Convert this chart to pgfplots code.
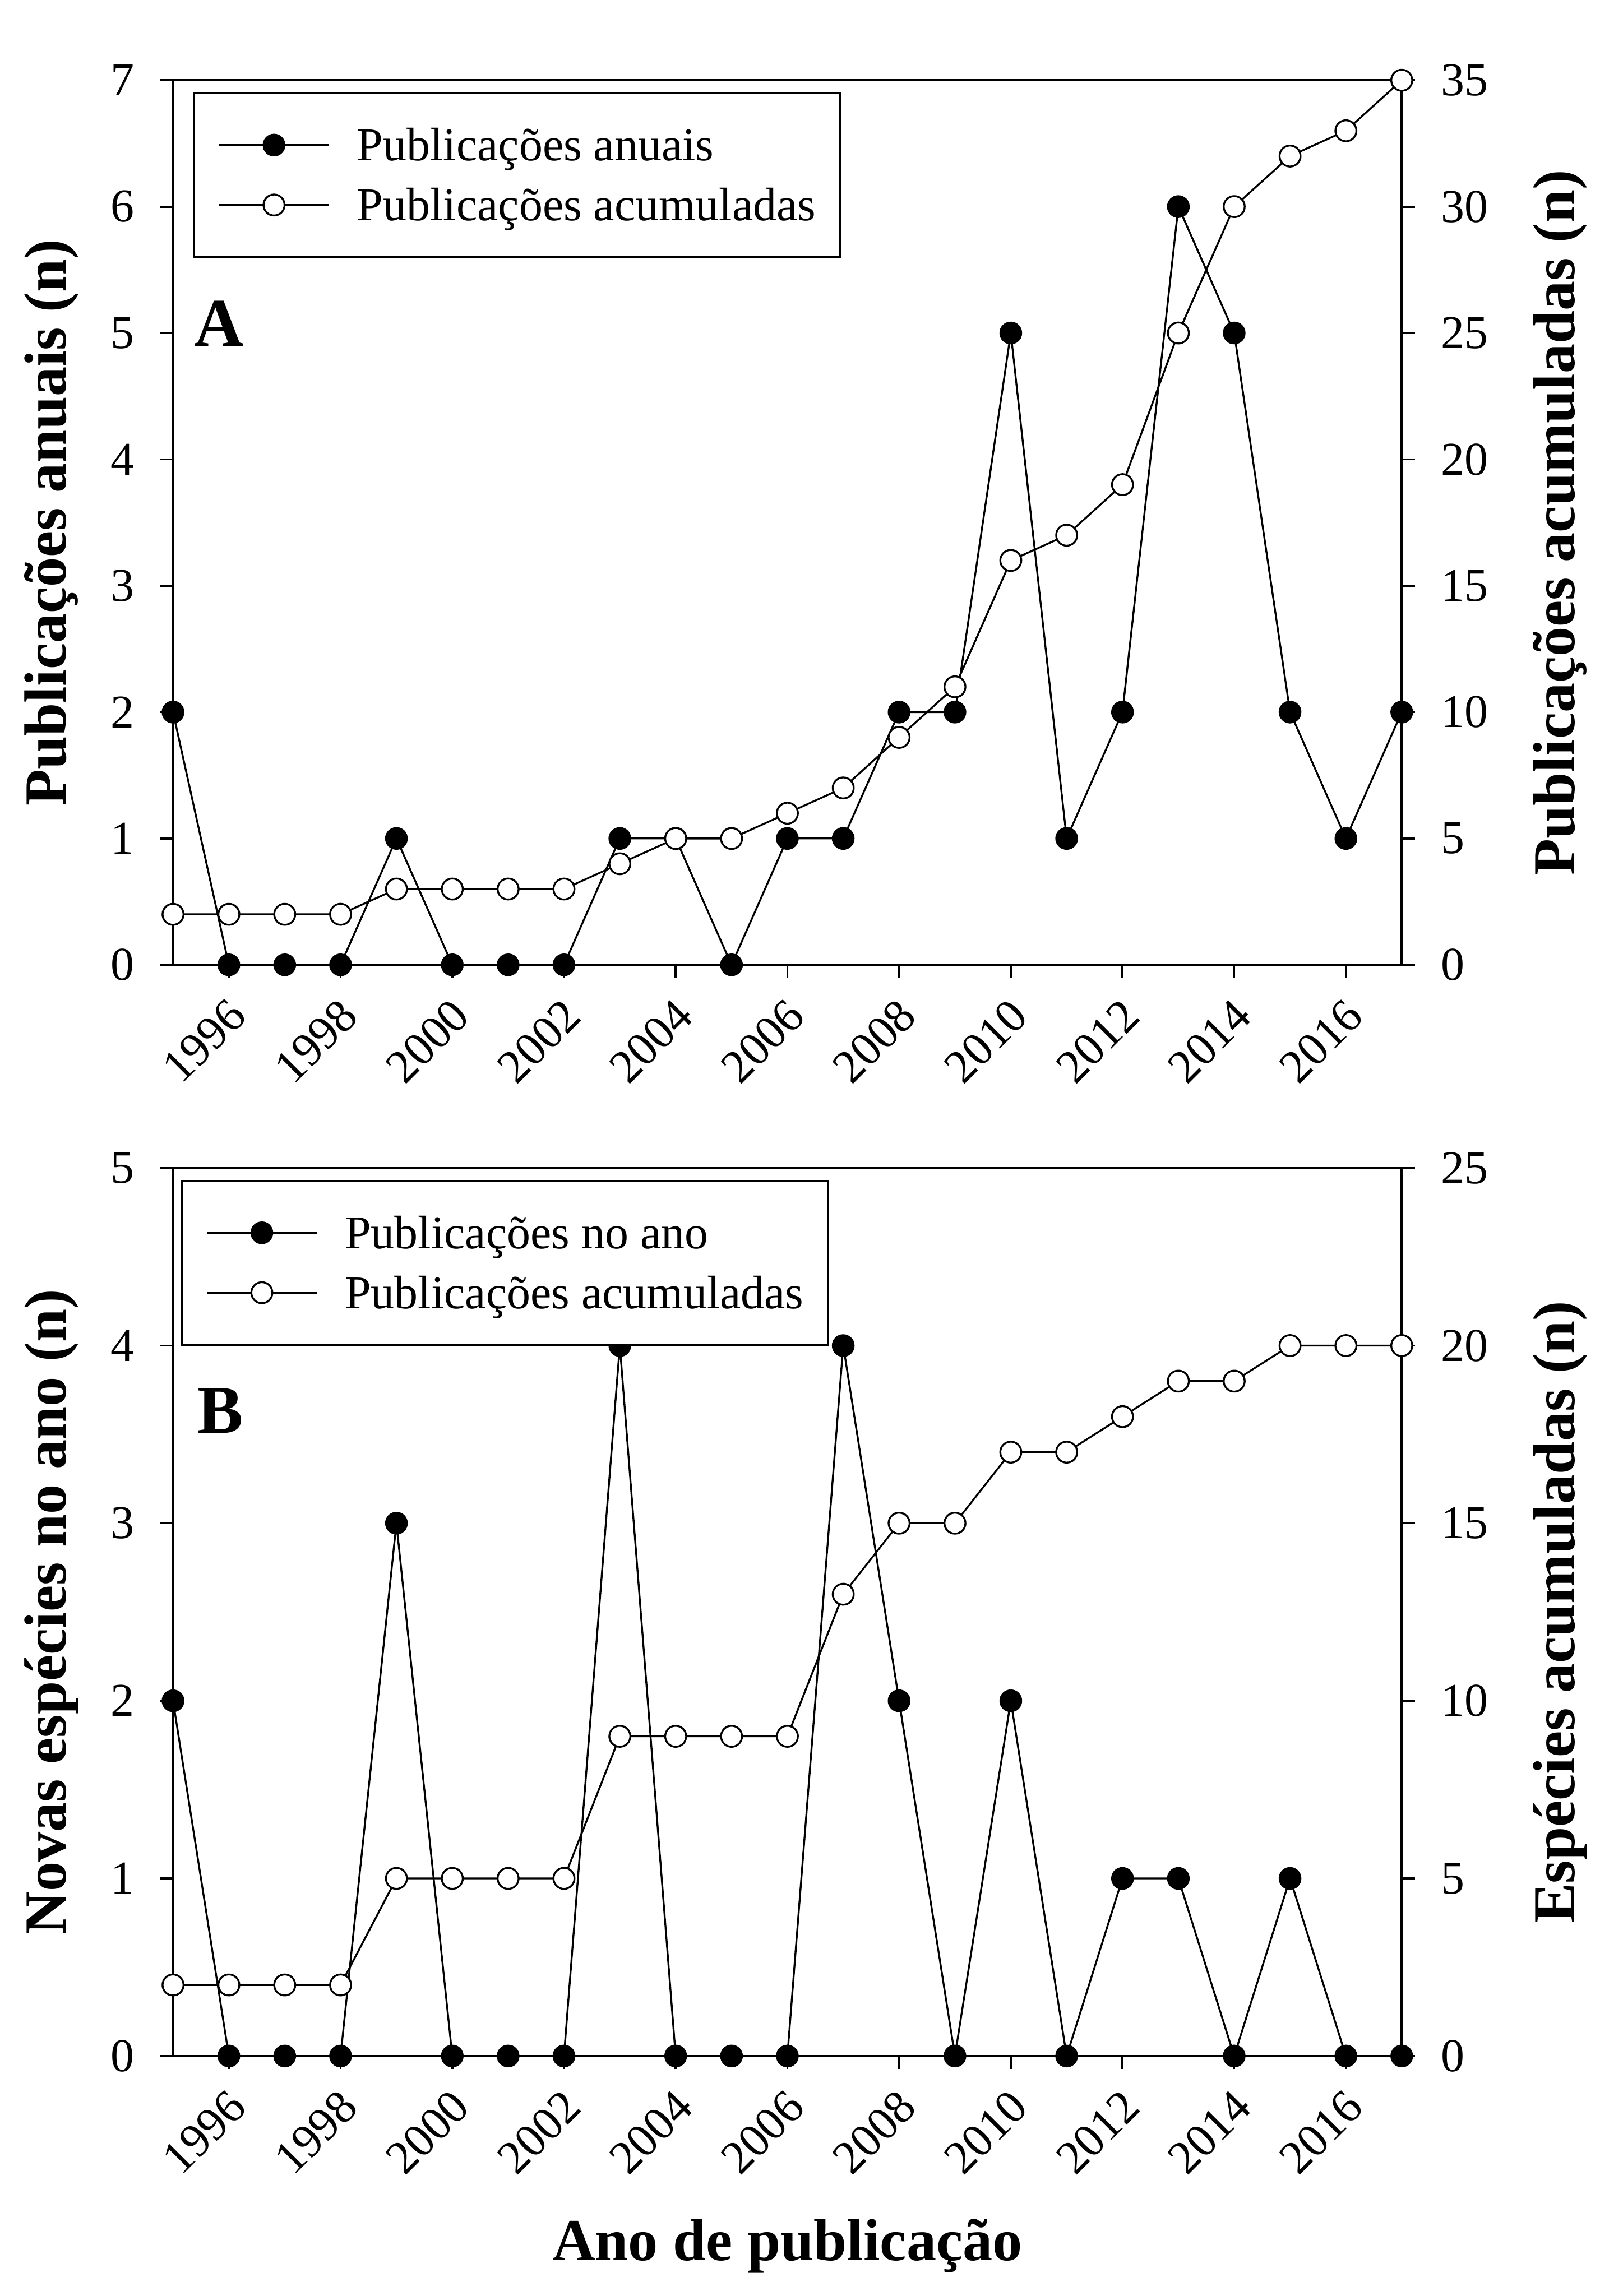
\documentclass[border=0pt]{standalone}
\usepackage{fontspec}
\setmainfont{Liberation Serif}
\usepackage{pgfplots}
\pgfplotsset{compat=1.18}
\usepackage{pgfplotstable}

\newcommand\tickfont{\fontsize{13.9}{16}\selectfont}
\newcommand\labfont{\fontsize{17.6}{20}\selectfont\bfseries}
\newcommand\letterfont{\fontsize{20.2}{24}\selectfont\bfseries}

% painel A: publicacoes por ano e acumuladas
\pgfplotstableread{
ano anual acum
1995 2 2
1996 0 2
1997 0 2
1998 0 2
1999 1 3
2000 0 3
2001 0 3
2002 0 3
2003 1 4
2004 1 5
2005 0 5
2006 1 6
2007 1 7
2008 2 9
2009 2 11
2010 5 16
2011 1 17
2012 2 19
2013 6 25
2014 5 30
2015 2 32
2016 1 33
2017 2 35
}\tabA

% painel B: novas especies por ano e acumuladas
\pgfplotstableread{
ano novas acum
1995 2 2
1996 0 2
1997 0 2
1998 0 2
1999 3 5
2000 0 5
2001 0 5
2002 0 5
2003 4 9
2004 0 9
2005 0 9
2006 0 9
2007 4 13
2008 2 15
2009 0 15
2010 2 17
2011 0 17
2012 1 18
2013 1 19
2014 0 19
2015 1 20
2016 0 20
2017 0 20
}\tabB

\pgfplotsset{
  painel/.style={
    width=362.9pt, scale only axis,
    xmin=1995, xmax=2017, clip=false,
    tick align=outside, major tick length=3.9pt,
    axis line style={line width=0.65pt},
    every tick/.style={black, line width=0.65pt},
    ticklabel style={font=\tickfont, inner sep=0pt},
    /pgf/number format/assume math mode=true,
    /pgf/number format/1000 sep={},
    label style={font=\labfont, inner sep=0pt},
  },
  esquerdo/.style={
    xtick={1996,1998,...,2016}, xtick pos=bottom, ytick pos=left,
    xticklabel style={xshift=-0.8pt, yshift=-5.2pt, rotate=45, anchor=north east},
    yticklabel style={xshift=-7.4pt, anchor=east},
    ylabel style={at={(axis description cs:-0.0761,0.5)}, anchor=south},
  },
  direito/.style={
    axis y line*=right, axis x line=none,
    yticklabel style={xshift=7.5pt, anchor=west},
    ylabel style={at={(axis description cs:1.1516,0.5)}, anchor=south},
    legend cell align=left,
    legend image code/.code={
      \draw[mark repeat=2, mark phase=2, ##1] plot coordinates {(0pt,0pt) (16.25pt,0pt) (32.5pt,0pt)};
    },
    legend style={anchor=north west, draw=black, line width=0.6pt, fill=white,
      font=\tickfont, inner xsep=7.2pt, inner ysep=8pt, row sep=3pt,
      nodes={inner sep=0pt, text height=12pt, text depth=2.7pt},
      /tikz/every odd column/.append style={column sep=8pt}},
  },
  cheio/.style={black, line width=0.55pt, mark=*, mark size=3.1pt,
    mark options={solid, fill=black, line width=0.5pt}},
  vazio/.style={black, line width=0.55pt, mark=*, mark size=3.1pt,
    mark options={solid, fill=white, line width=0.55pt}},
}

\begin{document}
\begin{tikzpicture}
\useasboundingbox (-51.1pt,23.7pt) rectangle (421.3pt,-654.5pt);

% ---- A ----
\begin{axis}[painel, esquerdo, at={(0pt,0pt)}, anchor=north west, height=261.3pt,
    ymin=0, ymax=7, ytick={0,...,7},
    ylabel={Publicações anuais (n)}]
  \addplot[cheio] table[x=ano, y=anual] {\tabA};
  \node[anchor=base west, inner sep=0pt, font=\letterfont] at (axis description cs:0.0168,0.6996) {A};
\end{axis}
\begin{axis}[painel, direito, at={(0pt,0pt)}, anchor=north west, height=261.3pt,
    ymin=0, ymax=35, ytick={0,5,...,35},
    ylabel={Publicações acumuladas (n)},
    legend style={at={(axis description cs:0.016,0.9866)}}]
  \addlegendimage{cheio}
  \addlegendentry{Publicações anuais}
  \addplot[vazio] table[x=ano, y=acum] {\tabA};
  \addlegendentry{Publicações acumuladas}
\end{axis}

% ---- B ----
\begin{axis}[painel, esquerdo, at={(0pt,-321.3pt)}, anchor=north west, height=262.3pt,
    ymin=0, ymax=5, ytick={0,...,5},
    ylabel={Novas espécies no ano (n)},
    xlabel={Ano de publicação},
    xlabel style={at={(axis description cs:0.5,-0.2303)}, anchor=base}]
  \addplot[cheio] table[x=ano, y=novas] {\tabB};
  \node[anchor=base west, inner sep=0pt, font=\letterfont] at (axis description cs:0.0193,0.7015) {B};
\end{axis}
\begin{axis}[painel, direito, at={(0pt,-321.3pt)}, anchor=north west, height=262.3pt,
    ymin=0, ymax=25, ytick={0,5,...,25},
    ylabel={Espécies acumuladas (n)},
    legend style={at={(axis description cs:0.0061,0.9867)}}]
  \addlegendimage{cheio}
  \addlegendentry{Publicações no ano}
  \addplot[vazio] table[x=ano, y=acum] {\tabB};
  \addlegendentry{Publicações acumuladas}
\end{axis}
\end{tikzpicture}
\end{document}
